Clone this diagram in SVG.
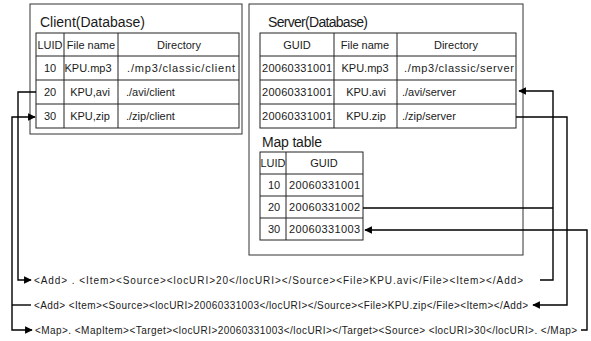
<svg xmlns="http://www.w3.org/2000/svg" width="591" height="341" viewBox="0 0 591 341">
<style>
  text { font-family: "Liberation Sans", Arial, sans-serif; fill: #1a1a1a; }
  .title { font-size: 14px; }
  .cell { font-size: 11px; }
  .mid { text-anchor: middle; }
  .xml { font-size: 10px; }
  .box { fill: #fff; stroke: #333; stroke-width: 1; }
  .grid { fill: none; stroke: #222; stroke-width: 1; }
  .conn { fill: none; stroke: #000; stroke-width: 1.4; }
</style>
<defs>
  <marker id="arr" viewBox="0 0 10 10" refX="9" refY="5" markerWidth="5.5" markerHeight="5.5" orient="auto-start-reverse" markerUnits="strokeWidth">
    <path d="M0,0 L10,5 L0,10 z" fill="#000"/>
  </marker>
</defs>

<rect width="591" height="341" fill="#fff"/>

<g id="client">
  <rect class="box" x="30" y="4" width="212" height="130"/>
  <text class="title" x="40" y="27" textLength="105" lengthAdjust="spacing">Client(Database)</text>
  <rect class="grid" x="36" y="33" width="203" height="95"/>
  <path class="grid" d="M36,56 H239 M36,80 H239 M36,104 H239 M64,33 V128 M118,33 V128"/>
  <text class="cell mid" x="50" y="49" textLength="25" lengthAdjust="spacingAndGlyphs">LUID</text>
  <text class="cell mid" x="91" y="49">File name</text>
  <text class="cell mid" x="179" y="49">Directory</text>
  <text class="cell mid" x="50" y="72">10</text>
  <text class="cell mid" x="88" y="72">KPU.mp3</text>
  <text class="cell" x="127" y="72" textLength="108" lengthAdjust="spacing">./mp3/classic/client</text>
  <text class="cell mid" x="50" y="96">20</text>
  <text class="cell mid" x="90" y="96">KPU,avi</text>
  <text class="cell" x="126" y="96">./avi/client</text>
  <text class="cell mid" x="50" y="120">30</text>
  <text class="cell mid" x="90" y="120">KPU,zip</text>
  <text class="cell" x="126" y="120">./zip/client</text>
</g>

<g id="server">
  <rect class="box" x="249" y="4" width="274" height="251"/>
  <text class="title" x="268" y="27" textLength="100" lengthAdjust="spacing">Server(Database)</text>
  <rect class="grid" x="260" y="33" width="256" height="95"/>
  <path class="grid" d="M260,56 H516 M260,80 H516 M260,104 H516 M334,33 V128 M397,33 V128"/>
  <text class="cell mid" x="297" y="49">GUID</text>
  <text class="cell mid" x="365" y="49">File name</text>
  <text class="cell mid" x="456" y="49">Directory</text>
  <text class="cell" x="262" y="72" textLength="70" lengthAdjust="spacing">20060331001</text>
  <text class="cell mid" x="365" y="72">KPU.mp3</text>
  <text class="cell" x="404" y="72" textLength="110" lengthAdjust="spacing">./mp3/classic/server</text>
  <text class="cell" x="262" y="96" textLength="70" lengthAdjust="spacing">20060331001</text>
  <text class="cell mid" x="366" y="96">KPU.avi</text>
  <text class="cell" x="402" y="96">./avi/server</text>
  <text class="cell" x="262" y="120" textLength="70" lengthAdjust="spacing">20060331001</text>
  <text class="cell mid" x="366" y="120">KPU.zip</text>
  <text class="cell" x="402" y="120">./zip/server</text>
</g>

<g id="maptable">
  <text class="title" x="262" y="147" font-size="13" textLength="60" lengthAdjust="spacing">Map table</text>
  <rect class="grid" x="260" y="152" width="103" height="88"/>
  <path class="grid" d="M260,174 H363 M260,196 H363 M260,218 H363 M286,152 V240"/>
  <text class="cell mid" x="273" y="167" textLength="25" lengthAdjust="spacingAndGlyphs">LUID</text>
  <text class="cell mid" x="324" y="167">GUID</text>
  <text class="cell mid" x="274" y="189">10</text>
  <text class="cell" x="289" y="189" textLength="71" lengthAdjust="spacing">20060331001</text>
  <text class="cell mid" x="274" y="211">20</text>
  <text class="cell" x="289" y="211" textLength="71" lengthAdjust="spacing">20060331002</text>
  <text class="cell mid" x="274" y="233">30</text>
  <text class="cell" x="289" y="233" textLength="71" lengthAdjust="spacing">20060331003</text>
</g>

<g id="messages">
  <text class="xml" x="34" y="284" textLength="489" lengthAdjust="spacing">&lt;Add&gt; . &lt;Item&gt;&lt;Source&gt;&lt;locURI&gt;20&lt;/locURI&gt;&lt;/Source&gt;&lt;File&gt;KPU.avi&lt;/File&gt;&lt;Item&gt;&lt;/Add&gt;</text>
  <text class="xml" x="34" y="309" textLength="494" lengthAdjust="spacing">&lt;Add&gt;  &lt;Item&gt;&lt;Source&gt;&lt;locURI&gt;20060331003&lt;/locURI&gt;&lt;/Source&gt;&lt;File&gt;KPU.zip&lt;/File&gt;&lt;Item&gt;&lt;/Add&gt;</text>
  <text class="xml" x="35" y="334" textLength="542" lengthAdjust="spacing">&lt;Map&gt;.  &lt;MapItem&gt;&lt;Target&gt;&lt;locURI&gt;20060331003&lt;/locURI&gt;&lt;/Target&gt;&lt;Source&gt; &lt;locURI&gt;30&lt;/locURI&gt;. &lt;/Map&gt;</text>
</g>

<g id="connectors">
  <path class="conn" d="M36,92 H18 V280 H31" marker-end="url(#arr)"/>
  <path class="conn" d="M35,117 H12 V330 H32" marker-start="url(#arr)" marker-end="url(#arr)"/>
  <path class="conn" d="M12,305 H31"/>
  <path class="conn" d="M540,280 H553 V91 H519" marker-end="url(#arr)"/>
  <path class="conn" d="M363,208 H553"/>
  <path class="conn" d="M516,117 H567 V305 H533" marker-end="url(#arr)"/>
  <path class="conn" d="M581,330 H587 V230 H365" marker-end="url(#arr)"/>
</g>
</svg>
